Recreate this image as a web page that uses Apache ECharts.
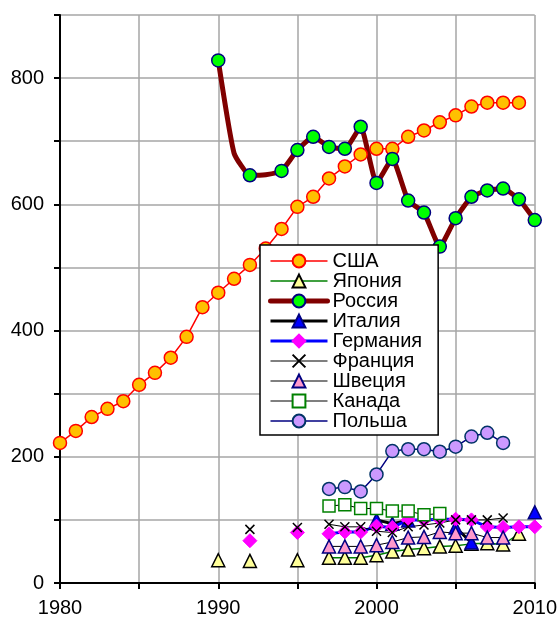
<!DOCTYPE html>
<html><head><meta charset="utf-8">
<script src="https://cdn.jsdelivr.net/npm/echarts@6/dist/echarts.min.js"></script>
<style>html,body{margin:0;padding:0;background:#fff}#c{width:560px;height:619px}</style>
</head><body><div id="c"></div>
<script>
const years = [1980,1981,1982,1983,1984,1985,1986,1987,1988,1989,1990,1991,1992,1993,1994,1995,1996,1997,1998,1999,2000,2001,2002,2003,2004,2005,2006,2007,2008,2009,2010];
const _ = null;
const usa     = [222,241,263,276,288,314,333,357,390,437,460,482,504,530,561,596,612,641,660,679,688,688,707,717,730,741,755,761,761,761,_];
const japan   = [_,_,_,_,_,_,_,_,_,_,36,_,35,_,_,36,_,40,40,40,44,50,53,55,58,59,62,63,61,78,_];
const russia  = [_,_,_,_,_,_,_,_,_,_,828,681,646,647,653,686,707,691,688,723,634,672,606,587,533,578,612,622,625,608,575];
const italy   = [_,_,_,_,_,_,_,_,_,_,_,_,_,_,_,_,_,_,_,_,100,94,99,_,_,88,64,_,_,_,112];
const germany = [_,_,_,_,_,_,_,_,_,_,_,_,67,_,_,80,_,78,81,81,90,88,100,100,101,101,100,89,88,89,89];
const france  = [_,_,_,_,_,_,_,_,_,_,_,_,85,_,_,88,_,93,89,89,82,80,89,92,95,100,100,100,103,_,_];
const sweden  = [_,_,_,_,_,_,_,_,_,_,_,_,_,_,_,_,_,58,58,58,60,65,72,73,81,79,79,72,72,_,_];
const canada  = [_,_,_,_,_,_,_,_,_,_,_,_,_,_,_,_,_,122,124,118,118,114,114,108,110,_,_,_,_,_,_];
const poland  = [_,_,_,_,_,_,_,_,_,_,_,_,_,_,_,_,_,149,152,145,172,209,212,212,208,216,232,238,222,_,_];
const russiaNoMarker = [1991, 1993];
const names = ['США','Япония','Россия','Италия','Германия','Франция','Швеция','Канада','Польша'];

function pairs(arr){ return years.map((y,i)=>[y, arr[i]]); }
const FONT = 'Liberation Sans, Arial, sans-serif';
const xPath = 'path://M0,0L10,10M10,0L0,10';

function mk(name, arr, o){
  return Object.assign({
    name, type:'line', data: pairs(arr), connectNulls:false, animation:false,
    showAllSymbol:true
  }, o);
}

const series = [
  mk(names[0], usa, {symbol:'circle', symbolSize:13, lineStyle:{color:'#ff0000', width:1.5},
     itemStyle:{color:'#ffc000', borderColor:'#ff0000', borderWidth:1.5}}),
  mk(names[1], japan, {symbol:'triangle', symbolSize:13, lineStyle:{color:'#008000', width:1.5},
     itemStyle:{color:'#ffff99', borderColor:'#000', borderWidth:1.5}}),
  {
    name: names[2], type:'line', animation:false, showAllSymbol:true,
    data: years.map((y,i)=> russia[i]==null ? [y,null] : (russiaNoMarker.indexOf(y)>=0 ? {value:[y,russia[i]], symbol:'none'} : [y,russia[i]])),
    symbol:'circle', symbolSize:13, smooth:0.15,
    lineStyle:{color:'#800000', width:5, join:'round', cap:'round'},
    itemStyle:{color:'#00ff00', borderColor:'#000080', borderWidth:1.5}
  },
  mk(names[3], italy, {symbol:'triangle', symbolSize:13, lineStyle:{color:'#000', width:3},
     itemStyle:{color:'#0000ff', borderColor:'#000080', borderWidth:1.5}}),
  mk(names[4], germany, {symbol:'diamond', symbolSize:14, lineStyle:{color:'#0000ff', width:3},
     itemStyle:{color:'#ff00ff', borderColor:'#ff00ff', borderWidth:1}}),
  mk(names[5], france, {symbol:xPath, symbolSize:9, lineStyle:{color:'#000', width:1},
     itemStyle:{color:'#000', borderColor:'#000', borderWidth:1.5}}),
  mk(names[6], sweden, {symbol:'triangle', symbolSize:13, lineStyle:{color:'#000', width:1},
     itemStyle:{color:'#ff99cc', borderColor:'#000080', borderWidth:1.5}}),
  mk(names[7], canada, {symbol:'rect', symbolSize:12, lineStyle:{color:'#000', width:1},
     itemStyle:{color:'#fff', borderColor:'#008000', borderWidth:1.5}}),
  mk(names[8], poland, {symbol:'circle', symbolSize:13, lineStyle:{color:'#000080', width:1.5},
     itemStyle:{color:'#cc99ff', borderColor:'#003366', borderWidth:1.5}})
];

const legendWidths = [1.5,1.5,5,3,3,1.2,1.2,1.2,1.5];
const legendData = names.map((n,i)=>({name:n, lineStyle:{width:legendWidths[i]}}));

const chart = echarts.init(document.getElementById('c'), null, {renderer:'canvas'});
chart.setOption({
  backgroundColor:'#fff',
  animation:false,
  grid:{left:60, right:25, top:15, bottom:36, containLabel:false},
  xAxis:{type:'value', min:1980, max:2010, interval:5,
    axisLine:{show:true, onZero:false, lineStyle:{color:'#000', width:2}},
    axisTick:{show:true, length:6, lineStyle:{color:'#000', width:2}},
    axisLabel:{color:'#000', fontSize:20, fontFamily:FONT, margin:15,
      formatter:v=> v%10===0 ? String(v) : ''},
    splitLine:{show:true, lineStyle:{color:'#a6a6a6', width:1.5}}},
  yAxis:{type:'value', min:0, max:900, interval:100,
    axisLine:{show:true, onZero:false, lineStyle:{color:'#000', width:2}},
    axisTick:{show:true, length:6, lineStyle:{color:'#000', width:2}},
    axisLabel:{color:'#000', fontSize:20, fontFamily:FONT, margin:16,
      formatter:v=> (v%200===0 && v<900) ? String(v) : ''},
    splitLine:{show:true, lineStyle:{color:'#a6a6a6', width:1.5}}},
  legend:{show:true, orient:'vertical', left:260, top:245, selectedMode:false,
    data:legendData, backgroundColor:'#fff', borderColor:'#000', borderWidth:1.5,
    padding:[6,16,4,8], itemGap:0, itemWidth:57, itemHeight:16,
    textStyle:{color:'#000', fontSize:20, lineHeight:20, fontFamily:FONT}},
  series
});
</script></body></html>
